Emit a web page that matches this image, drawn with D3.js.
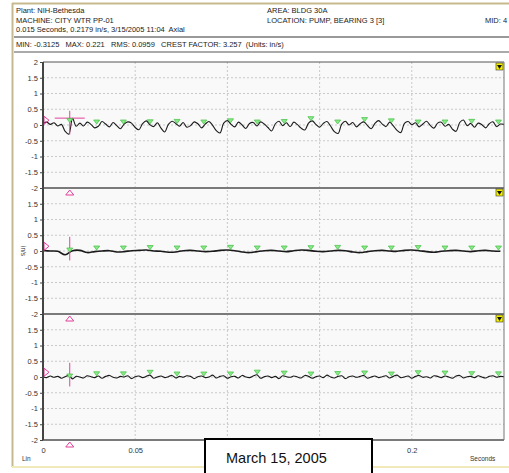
<!DOCTYPE html>
<html lang="en">
<head>
<meta charset="UTF-8">
<title>Waveform</title>
<script src="https://d3js.org/d3.v7.min.js"></script>
<style>
  body { margin: 0; background: #fff; }
  text { font-family: "Liberation Sans", Arial, sans-serif; white-space: pre; }
</style>
</head>
<body>
<svg id="chart" width="509" height="473"></svg>
<script>
// header texts
const headLeft = ['Plant: NIH-Bethesda', 'MACHINE: CITY WTR PP-01', '0.015 Seconds, 0.2179 in/s, 3/15/2005 11:04  Axial']
const headRight = ['AREA: BLDG 30A', 'LOCATION: PUMP, BEARING 3 [3]']
const statLine = 'MIN: -0.3125   MAX: 0.221   RMS: 0.0959   CREST FACTOR: 3.257  (Units: in/s)'

const yTicks = [2, 1.5, 1, 0.5, 0, -0.5, -1, -1.5, -2]
const xTicks = [0, 0.05, 0.1, 0.15, 0.2]
// 0.1 and 0.15 sit under the date box
const xLabels = [0, 0.05, 0.2]

// sample spacing (s) of each trace
const dt1 = 0.002, dt2 = 0.004, dt3 = 0.002

// top trace, in/s
const wave1 = [
  0.05, 0.09, 0.02, 0.07, -0.03, 0.02, -0.20, -0.29, 0.21, -0.04,
  0.06, -0.03, 0.09, 0.02, -0.09, -0.04, 0.11, 0.03, -0.06, 0.08,
  -0.02, -0.12, 0.03, 0.10, 0.06, -0.08, -0.15, 0.04, 0.13, 0.01,
  -0.05, 0.07, -0.10, -0.22, 0.02, 0.12, 0.05, -0.04, 0.08, -0.07,
  -0.02, 0.10, 0.04, -0.09, 0.03, 0.11, -0.01, -0.18, -0.25, 0.06,
  0.14, 0.02, -0.06, 0.09, 0.00, -0.11, 0.05, 0.08, -0.03, 0.10,
  0.03, -0.08, -0.19, 0.04, 0.12, -0.02, 0.07, -0.05, 0.09, 0.01,
  -0.10, -0.16, 0.06, 0.13, 0.02, -0.07, 0.05, 0.11, -0.04, -0.21,
  -0.27, 0.03, 0.12, 0.00, 0.08, -0.06, 0.04, 0.10, -0.02, -0.12,
  0.05, 0.14, 0.03, -0.05, 0.09, -0.03, -0.17, -0.24, 0.05, 0.11,
  0.01, 0.07, -0.06, 0.03, 0.12, -0.01, -0.10, 0.06, 0.09, -0.04,
  0.02, -0.13, -0.20, 0.08, 0.16, -0.02, 0.05, -0.07, 0.06, 0.01,
  -0.09, 0.04, 0.10, -0.05, 0.03, 0.02
]

// middle trace
const wave2 = [
  0.02, 0.00, -0.01, -0.12, 0.01, 0.02, -0.05, -0.02, 0.00, 0.01,
  -0.03, -0.02, 0.01, 0.02, 0.03, 0.00, -0.01, -0.04, -0.03, 0.01,
  0.02, 0.00, -0.02, -0.01, 0.02, 0.03, 0.01, -0.03, -0.05, -0.02,
  0.01, 0.02, 0.00, -0.02, 0.01, 0.03, 0.02, -0.01, -0.02, 0.00,
  0.02, 0.01, -0.03, -0.05, -0.02, 0.01, 0.02, 0.00, -0.01, 0.02,
  0.03, 0.01, -0.02, -0.04, -0.01, 0.01, 0.02, 0.00, -0.02, 0.01,
  0.02, 0.00, -0.01
]

// bottom trace
const wave3 = [
  0.01, -0.02, 0.03, -0.01, 0.02, -0.04, 0.01, 0.05, -0.06, 0.02,
  0.00, -0.03, 0.04, 0.01, -0.02, 0.03, -0.04, 0.02, 0.05, -0.01,
  -0.03, 0.02, 0.00, 0.04, -0.05, 0.01, 0.03, -0.02, 0.02, 0.06,
  -0.04, 0.00, 0.03, -0.02, 0.01, 0.05, -0.03, 0.02, -0.01, 0.04,
  0.02, -0.05, 0.01, 0.03, -0.02, 0.00, 0.06, -0.03, 0.02, 0.04,
  -0.04, 0.01, 0.02, -0.03, 0.05, 0.00, -0.02, 0.03, 0.07, -0.04,
  0.01, 0.03, -0.02, 0.02, -0.05, 0.04, 0.01, -0.01, 0.03, 0.00,
  -0.03, 0.05, 0.02, -0.04, 0.01, 0.03, -0.02, 0.06, 0.00, -0.03,
  0.02, 0.04, -0.05, 0.01, 0.03, -0.01, 0.02, 0.05, -0.04, 0.00,
  0.03, -0.02, 0.01, 0.04, -0.03, 0.02, 0.06, -0.02, 0.00, 0.03,
  -0.04, 0.02, 0.05, -0.01, 0.01, -0.03, 0.04, 0.02, -0.02, 0.03,
  0.00, -0.04, 0.03, 0.05, -0.03, 0.01, 0.02, -0.02, 0.04, 0.00,
  -0.03, 0.02, 0.04, -0.01, 0.02, 0.01
]

const cursorTime = 0.0145
const cursorValue = 0.2179
// harmonic markers (s)
const markerTimes = [0.0291, 0.0436, 0.0581, 0.0727, 0.0872, 0.1017, 0.1162, 0.1308,
  0.1453, 0.1598, 0.1744, 0.1889, 0.2034, 0.2180, 0.2325, 0.2470]

const pink = '#e2409a'
const svg = d3.select('#chart')

// outer frame
svg.append('line').attr('x1', 12.5).attr('x2', 12.5).attr('y1', 3).attr('y2', 467)
  .attr('stroke', '#c7b98e').attr('stroke-width', 2)
svg.append('line').attr('x1', 12).attr('x2', 509).attr('y1', 3.5).attr('y2', 3.5)
  .attr('stroke', '#c7b98e').attr('stroke-width', 2)
svg.append('line').attr('x1', 12).attr('x2', 509).attr('y1', 467).attr('y2', 467)
  .attr('stroke', '#f1e9b9').attr('stroke-width', 2)

// header
headLeft.forEach((t, i) => {
  svg.append('text').attr('x', 16).attr('y', 13 + i * 9.5).attr('font-size', 7.5).attr('fill', '#222').text(t)
})
headRight.forEach((t, i) => {
  svg.append('text').attr('x', 267).attr('y', 13 + i * 9.5).attr('font-size', 7.5).attr('fill', '#222').text(t)
})
svg.append('text').attr('x', 485).attr('y', 22.5).attr('font-size', 7.5).attr('fill', '#222').text('MID: 4')
svg.append('line').attr('x1', 14).attr('x2', 509).attr('y1', 37).attr('y2', 37).attr('stroke', '#999').attr('stroke-width', 2)
svg.append('text').attr('x', 16).attr('y', 47).attr('font-size', 7.5).attr('fill', '#222').text(statLine)
svg.append('line').attr('x1', 14).attr('x2', 509).attr('y1', 52).attr('y2', 52).attr('stroke', '#aaa').attr('stroke-width', 2)

// plot geometry
const left = 43, right = 504, top0 = 62, panelH = 126
const x = d3.scaleLinear().domain([0, 0.25]).range([left, right])

svg.append('rect').attr('x', left).attr('y', top0).attr('width', right - left).attr('height', panelH * 3)
  .attr('fill', '#f9f9f9')

// vertical grid
svg.append('g').selectAll('line').data(xTicks.slice(1)).join('line')
  .attr('x1', d => x(d)).attr('x2', d => x(d)).attr('y1', top0).attr('y2', top0 + panelH * 3)
  .attr('stroke', '#c9c9c9').attr('stroke-dasharray', '2,2')

const waves = [[wave1, dt1], [wave2, dt2], [wave3, dt3]]

function valueAt(w, dt, t) {
  const i = Math.min(Math.floor(t / dt), w.length - 2)
  const f = t / dt - i
  return w[i] * (1 - f) + w[i + 1] * f
}

waves.forEach(([w, dt], p) => {
  const top = top0 + p * panelH
  const y = d3.scaleLinear().domain([-2, 2]).range([top + panelH, top])
  const g = svg.append('g')

  // horizontal grid
  g.selectAll('line.grid').data(yTicks.filter(v => Math.abs(v) < 2)).join('line')
    .attr('class', 'grid')
    .attr('x1', left).attr('x2', right).attr('y1', d => y(d)).attr('y2', d => y(d))
    .attr('stroke', '#c9c9c9').attr('stroke-dasharray', '2,2')

  // axis
  const ax = g.append('g').attr('transform', `translate(${left},0)`)
    .call(d3.axisLeft(y).tickValues(p === 0 ? yTicks : yTicks.slice(1)).tickSize(3).tickPadding(2)
      .tickFormat(d => String(d)))
  ax.select('.domain').remove()
  ax.selectAll('text').attr('font-size', 7.5).attr('fill', '#333').style('font-family', '"Liberation Sans", Arial, sans-serif')
  ax.selectAll('line').attr('stroke', '#444')

  // trace
  const line = d3.line().x((d, i) => x(i * dt)).y(d => y(d)).curve(d3.curveCatmullRom)
  g.append('path').datum(w).attr('d', line).attr('fill', 'none')
    .attr('stroke', '#1a1a1a').attr('stroke-width', p === 1 ? 1.6 : 1.1)

  // harmonic markers
  g.selectAll('path.mk').data(markerTimes).join('path').attr('class', 'mk')
    .attr('d', d => {
      const cx = x(d), cy = y(Math.max(valueAt(w, dt, d), 0)) - 1
      return `M${cx - 3},${cy - 4}L${cx + 3},${cy - 4}L${cx},${cy}Z`
    })
    .attr('fill', '#8be98b').attr('stroke', '#3fbf3f').attr('stroke-width', 0.7)

  // cursor
  const cx = x(cursorTime)
  const cv = p === 0 ? cursorValue * 0.5 : 0
  g.append('line').attr('x1', cx).attr('x2', cx).attr('y1', y(0.45)).attr('y2', y(-0.3))
    .attr('stroke', pink).attr('stroke-width', 1)
  if (p === 0) {
    g.append('line').attr('x1', cx - 15).attr('x2', cx + 15).attr('y1', y(cursorValue)).attr('y2', y(cursorValue))
      .attr('stroke', pink).attr('stroke-width', 1)
  }
  g.append('path').attr('d', `M${cx - 3},${y(cv) - 3}L${cx + 3},${y(cv) - 3}L${cx},${y(cv) + 1}Z`)
    .attr('fill', '#8be98b').attr('stroke', '#3fbf3f').attr('stroke-width', 0.7)

  // left zero pointer
  g.append('path').attr('d', `M${left + 1},${y(0.15) - 4}L${left + 6},${y(0.15)}L${left + 1},${y(0.15) + 4}Z`)
    .attr('fill', 'none').attr('stroke', pink).attr('stroke-width', 1)

  // time pointer below panel
  const by = top + panelH + 2
  g.append('path').attr('d', `M${cx - 4},${by + 5}L${cx + 4},${by + 5}L${cx},${by}Z`)
    .attr('fill', 'none').attr('stroke', pink).attr('stroke-width', 1)

  // panel bottom border
  g.append('line').attr('x1', left).attr('x2', right).attr('y1', top + panelH).attr('y2', top + panelH)
    .attr('stroke', '#7a7a7a').attr('stroke-width', 2)

  // yellow flag
  g.append('rect').attr('x', right - 8).attr('y', top + 1).attr('width', 7).attr('height', 7)
    .attr('fill', '#f4f000').attr('stroke', '#333').attr('stroke-width', 0.6)
  g.append('path').attr('d', `M${right - 7},${top + 3}L${right - 2},${top + 3}L${right - 4.5},${top + 7}Z`).attr('fill', '#111')
})

// frame of plot
svg.append('line').attr('x1', left).attr('x2', right).attr('y1', top0).attr('y2', top0).attr('stroke', '#555').attr('stroke-width', 1)
svg.append('line').attr('x1', right).attr('x2', right).attr('y1', top0).attr('y2', top0 + panelH * 3).attr('stroke', '#777').attr('stroke-width', 1)
svg.append('line').attr('x1', left).attr('x2', left).attr('y1', top0).attr('y2', top0 + panelH * 3).attr('stroke', '#444').attr('stroke-width', 2)

// y unit
svg.append('text').attr('transform', `translate(21,${top0 + panelH * 1.5}) rotate(90)`).attr('text-anchor', 'middle')
  .attr('font-size', 6.5).attr('fill', '#333').text('in/s')

// x axis
const xa = svg.append('g').attr('transform', `translate(0,${top0 + panelH * 3})`)
  .call(d3.axisBottom(x).tickValues(xLabels).tickSize(0).tickPadding(8).tickFormat(d => String(d)))
xa.select('.domain').remove()
xa.selectAll('text').attr('font-size', 7.5).attr('fill', '#333').style('font-family', '"Liberation Sans", Arial, sans-serif')

svg.append('text').attr('x', 22).attr('y', 461).attr('font-size', 6.5).attr('fill', '#333').text('Lin')
svg.append('text').attr('x', 470).attr('y', 461).attr('font-size', 6.5).attr('fill', '#333').text('Seconds')

// date box
svg.append('rect').attr('x', 205).attr('y', 439).attr('width', 167).attr('height', 45)
  .attr('fill', '#fff').attr('stroke', '#000').attr('stroke-width', 2)
svg.append('text').attr('x', 226).attr('y', 463).attr('font-size', 14.5).attr('fill', '#111').text('March 15, 2005')
</script>
</body>
</html>
